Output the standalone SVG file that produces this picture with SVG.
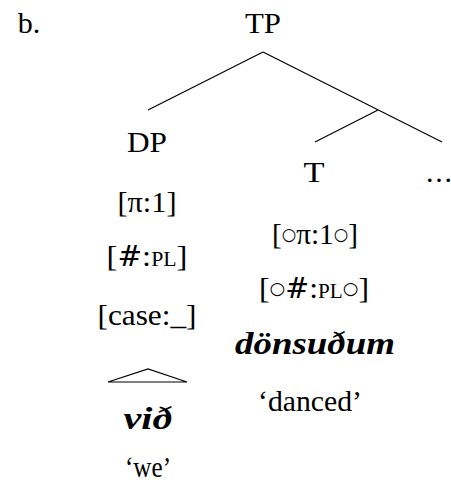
<svg xmlns="http://www.w3.org/2000/svg" width="451" height="491" viewBox="0 0 451 491">
<style>
text{font-family:"Liberation Serif","DejaVu Serif",serif;font-size:30px;fill:#000;text-anchor:middle}
.sc{font-size:20px}
.bi{font-weight:bold;font-style:italic;font-size:31px}
.ring{font-family:"DejaVu Sans",sans-serif;font-size:17px}
.sh{font-family:"DejaVu Serif",serif;font-size:27px}
line,polygon{stroke:#000;stroke-width:1.2;fill:none}
</style>
<rect width="451" height="491" fill="#fff"/>
<text x="29" y="33">b.</text>
<g id="TP"><text x="263" y="33" textLength="36" lengthAdjust="spacingAndGlyphs">TP</text></g>
<g id="DP">
<text x="147" y="152" textLength="40" lengthAdjust="spacingAndGlyphs">DP</text>
<text x="147" y="212" textLength="59" lengthAdjust="spacingAndGlyphs">[π:1]</text>
<text x="147" y="266" textLength="81" lengthAdjust="spacingAndGlyphs">[<tspan class="sh">#</tspan>:<tspan class="sc">PL</tspan>]</text>
<text x="147" y="325" textLength="99" lengthAdjust="spacingAndGlyphs">[case:_]</text>
</g>
<g id="T">
<text x="314" y="182" textLength="21" lengthAdjust="spacingAndGlyphs">T</text>
<text x="315" y="244" textLength="86" lengthAdjust="spacingAndGlyphs">[<tspan class="ring" dy="-4">○</tspan><tspan dy="4">π:1</tspan><tspan class="ring" dy="-4">○</tspan><tspan dy="4">]</tspan></text>
<text x="314" y="298" textLength="110" lengthAdjust="spacingAndGlyphs">[<tspan class="ring" dy="-4">○</tspan><tspan class="sh" dy="4">#</tspan>:<tspan class="sc">PL</tspan><tspan class="ring" dy="-4">○</tspan><tspan dy="4">]</tspan></text>
<text class="bi" x="315" y="354" textLength="160" lengthAdjust="spacingAndGlyphs">dönsuðum</text>
<text x="310" y="411" textLength="104" lengthAdjust="spacingAndGlyphs">‘danced’</text>
</g>
<g id="ellipsis"><text x="439" y="182" textLength="26" lengthAdjust="spacing">...</text></g>
<g id="vid">
<polygon points="108,382 148,369 187,382"/>
<text class="bi" x="148" y="429" textLength="49" lengthAdjust="spacingAndGlyphs">við</text>
<text x="148" y="477" textLength="46" lengthAdjust="spacingAndGlyphs">‘we’</text>
</g>
<g id="connectors">
<line x1="263" y1="52" x2="148" y2="110"/>
<line x1="263" y1="52" x2="442" y2="142"/>
<line x1="378" y1="110" x2="315" y2="142"/>
</g>
</svg>
